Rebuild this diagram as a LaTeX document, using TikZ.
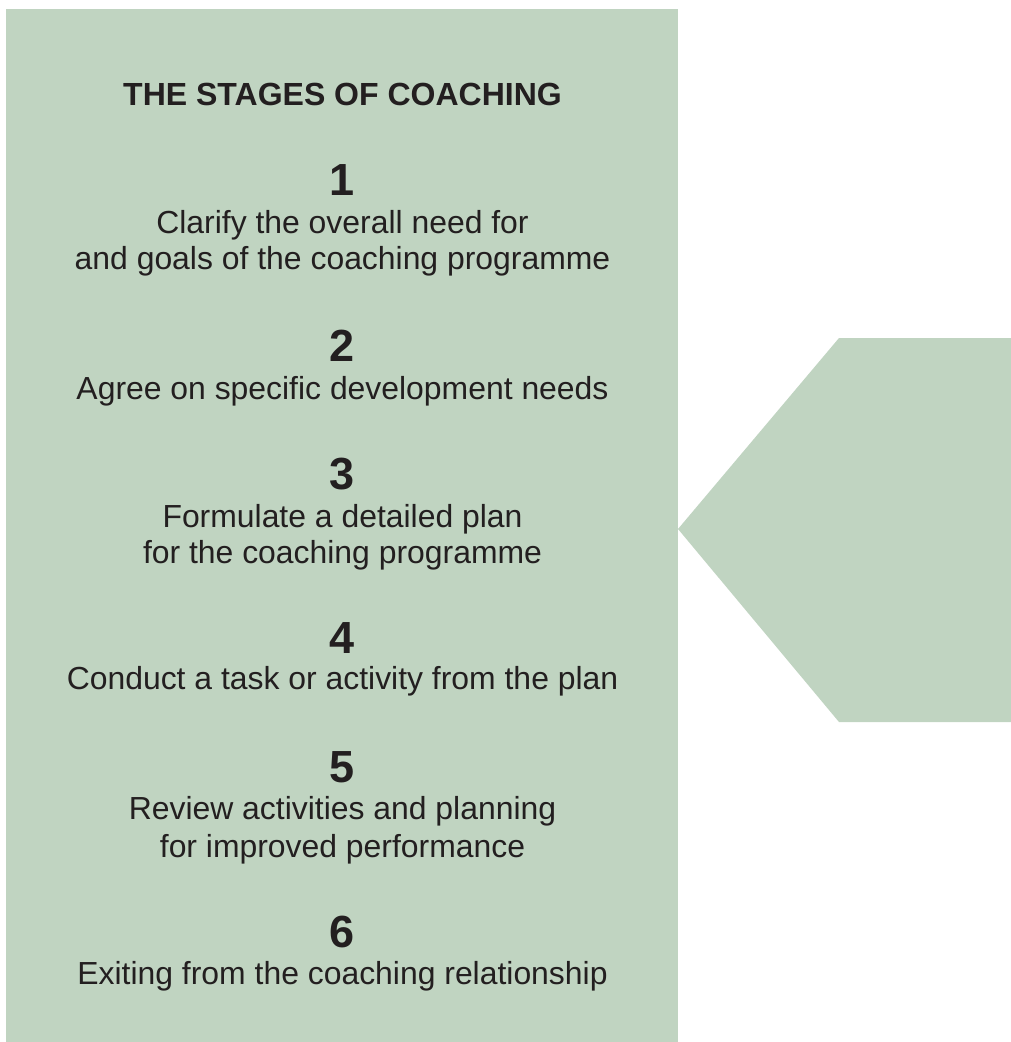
\documentclass[tikz,border=0pt]{standalone}
\usepackage{fontspec}
\setmainfont{Liberation Sans}
\definecolor{sage}{RGB}{192,212,193}
\definecolor{ink}{RGB}{35,31,32}
\begin{document}
\begin{tikzpicture}[x=1pt,y=-1pt,
  txt/.style={anchor=base,inner sep=0pt,text=ink,font=\fontsize{31.9}{37}\selectfont},
  num/.style={anchor=base,inner sep=0pt,text=ink,font=\fontsize{45}{45}\selectfont\bfseries},
  ttl/.style={anchor=base,inner sep=0pt,text=ink,font=\fontsize{32}{36}\selectfont\bfseries}]
\useasboundingbox (0,0) rectangle (1011,1042);
\fill[sage] (6,9) rectangle (678,1042);
\fill[sage] (678,529) -- (839,338) -- (1011,338) -- (1011,722) -- (839,722) -- cycle;
\def\cx{342.5}
\node[ttl] (title) at (\cx,105) {THE STAGES OF COACHING};
\node[num] (n1) at (\cx,195) {1};
\node[txt] (t1a) at (\cx,233) {Clarify the overall need for};
\node[txt] (t1b) at (\cx,269) {and goals of the coaching programme};
\node[num] (n2) at (\cx,361) {2};
\node[txt] (t2) at (\cx,399) {Agree on specific development needs};
\node[num] (n3) at (\cx,489) {3};
\node[txt] (t3a) at (\cx,527) {Formulate a detailed plan};
\node[txt] (t3b) at (\cx,563) {for the coaching programme};
\node[num] (n4) at (\cx,653) {4};
\node[txt] (t4) at (\cx,689) {Conduct a task or activity from the plan};
\node[num] (n5) at (\cx,782) {5};
\node[txt] (t5a) at (\cx,819) {Review activities and planning};
\node[txt] (t5b) at (\cx,857) {for improved performance};
\node[num] (n6) at (\cx,947) {6};
\node[txt] (t6) at (\cx,984) {Exiting from the coaching relationship};
\end{tikzpicture}
\end{document}
